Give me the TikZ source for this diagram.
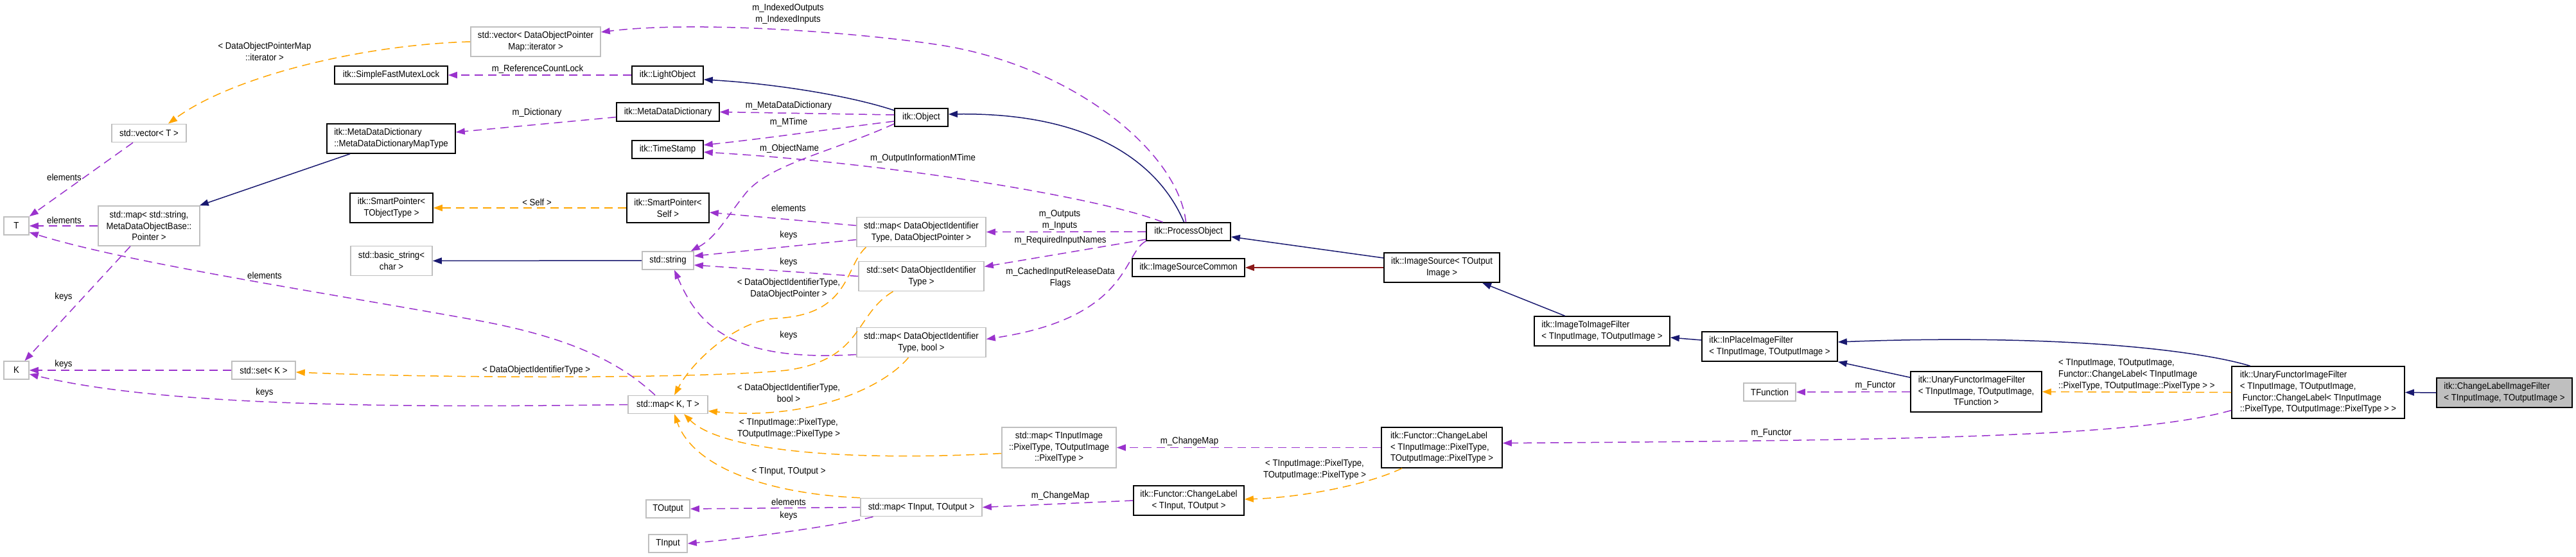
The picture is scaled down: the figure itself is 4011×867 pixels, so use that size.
\documentclass[tikz,border=0pt]{standalone}
\usepackage{fontspec}
\setmainfont{Liberation Sans}[FakeStretch=0.91]
\usetikzlibrary{arrows.meta}
\definecolor{navy}{RGB}{25,25,112}
\definecolor{orchid}{RGB}{154,50,205}
\definecolor{tmplorange}{RGB}{255,165,0}
\definecolor{brick}{RGB}{139,26,26}
\definecolor{greyb}{RGB}{191,191,191}
\tikzset{
  cls/.style={draw=black, line width=1.6pt, rectangle, inner sep=0pt, align=center, fill=white},
  ext/.style={cls, draw=greyb},
  focus/.style={cls, fill=greyb},
  sz/.style 2 args={minimum width=#1pt, minimum height=#2pt},
  lbl/.style={inner sep=0pt, align=center},
  inherit/.style={-{Triangle[length=14pt,width=10pt]}, line width=1.5pt, draw=navy},
  privinh/.style={inherit, draw=brick},
  uses/.style={-{Triangle[length=14pt,width=10pt]}, line width=1.5pt, draw=orchid, dash pattern=on 13pt off 8pt},
  tmpl/.style={uses, draw=tmplorange}
}

\begin{document}
\begin{tikzpicture}[x=1pt, y=-1pt, font=\fontsize{14.5}{17.7}\selectfont]
  \path[use as bounding box, fill=white] (0,0) rectangle (4011,867);

  \node[ext, sz={202}{46}] (vecDOPM) at (834,65) {std::vector< DataObjectPointer\\Map::iterator >};
  \node[cls, sz={176}{28}] (sfml) at (609,117) {itk::SimpleFastMutexLock};
  \node[cls, sz={111}{28}] (light) at (1039.5,117) {itk::LightObject};
  \node[ext, sz={116}{28}] (vecT) at (232,207.5) {std::vector< T >};
  \node[cls, sz={200}{46}, align=left] (mapType) at (609,216) {itk::MetaDataDictionary\\::MetaDataDictionaryMapType};
  \node[cls, sz={160}{29}] (mdd) at (1040,174.5) {itk::MetaDataDictionary};
  \node[cls, sz={83}{28}] (obj) at (1434.5,183) {itk::Object};
  \node[cls, sz={111}{28}] (ts) at (1039.5,233) {itk::TimeStamp};
  \node[ext, sz={39}{28}] (T) at (25.5,352) {T};
  \node[ext, sz={158}{62}] (mapStr) at (232,352) {std::map< std::string,\\MetaDataObjectBase::\\Pointer >};
  \node[cls, sz={129}{46}] (spTOT) at (609.5,324) {itk::SmartPointer<\\TObjectType >};
  \node[cls, sz={128}{46}] (spSelf) at (1040,324) {itk::SmartPointer<\\Self >};
  \node[ext, sz={127}{46}] (bstr) at (609.5,406.5) {std::basic\_string<\\char >};
  \node[ext, sz={80}{28}] (str) at (1040,406) {std::string};
  \node[ext, sz={201}{46}] (mapDOP) at (1434.5,361.5) {std::map< DataObjectIdentifier\\Type, DataObjectPointer >};
  \node[ext, sz={195}{46}] (setDOI) at (1434.5,430.5) {std::set< DataObjectIdentifier\\Type >};
  \node[ext, sz={201}{46}] (mapDOB) at (1434.5,533.5) {std::map< DataObjectIdentifier\\Type, bool >};
  \node[ext, sz={39}{28}] (K) at (25.5,577) {K};
  \node[ext, sz={99}{28}] (setK) at (410.5,577) {std::set< K >};
  \node[ext, sz={124}{28}] (mapKT) at (1040,630.5) {std::map< K, T >};
  \node[ext, sz={178}{63}] (mapPix) at (1649,697.5) {std::map< TInputImage\\::PixelType, TOutputImage\\::PixelType >};
  \node[cls, sz={188}{63}] (clPix) at (2245,697.5) {\begin{tabular}{@{}l@{}}itk::Functor::ChangeLabel\\< TInputImage::PixelType,\\\multicolumn{1}{@{}c@{}}{TOutputImage::PixelType >}\end{tabular}};
  \node[ext, sz={189}{28}] (mapTIO) at (1434.5,790.5) {std::map< TInput, TOutput >};
  \node[ext, sz={68}{28}] (tout) at (1040,793) {TOutput};
  \node[ext, sz={60}{28}] (tin) at (1040,847) {TInput};
  \node[cls, sz={172}{46}] (clIO) at (1851,780) {itk::Functor::ChangeLabel\\< TInput, TOutput >};
  \node[cls, sz={131}{28}] (po) at (1850.5,361) {itk::ProcessObject};
  \node[cls, sz={175}{28}] (isc) at (1850.5,417) {itk::ImageSourceCommon};
  \node[cls, sz={180}{46}] (is) at (2245,417) {itk::ImageSource< TOutput\\Image >};
  \node[cls, sz={211}{46}, align=left] (itif) at (2494.5,516) {itk::ImageToImageFilter\\< TInputImage, TOutputImage >};
  \node[cls, sz={211}{46}, align=left] (ipif) at (2755.5,540) {itk::InPlaceImageFilter\\< TInputImage, TOutputImage >};
  \node[ext, sz={81}{28}] (tfun) at (2755.5,611) {TFunction};
  \node[cls, sz={204}{63}] (ufif) at (3077,610.5) {\begin{tabular}{@{}l@{}}itk::UnaryFunctorImageFilter\\< TInputImage, TOutputImage,\\\multicolumn{1}{@{}c@{}}{TFunction >}\end{tabular}};
  \node[cls, sz={269}{81}, align=left] (ufcl) at (3609.5,611.5) {itk::UnaryFunctorImageFilter\\< TInputImage, TOutputImage,\\\hspace*{4pt}Functor::ChangeLabel< TInputImage\\::PixelType, TOutputImage::PixelType > >};
  \node[focus, sz={211}{46}, align=left] (clif) at (3899.5,612) {itk::ChangeLabelImageFilter\\< TInputImage, TOutputImage >};

  \draw[tmpl] (vecDOPM.west) .. controls (560,70) and (360,120) .. ([xshift=30pt]vecT.north);
  \draw[uses] ([xshift=-4pt]po.north) .. controls (1835,240) and (1680,110) .. (1480,73) .. controls (1380,55) and (1100,30) .. ([yshift=15pt]vecDOPM.east);
  \draw[uses] (light.west) -- (sfml.east);
  \draw[inherit] ([yshift=11pt]obj.west) .. controls (1320,148) and (1200,130) .. ([yshift=-7pt]light.east);
  \draw[uses] ([yshift=4pt]obj.west) -- (mdd.east);
  \draw[uses] ([yshift=-8pt]mdd.west) -- ([yshift=10pt]mapType.east);
  \draw[uses] ([yshift=-6pt]obj.west) .. controls (1300,200) and (1200,215) .. ([yshift=7pt]ts.east);
  \draw[uses] ([xshift=-40pt]po.north) .. controls (1720,310) and (1400,255) .. ([yshift=-4pt]ts.east);
  \draw[uses] ([yshift=-10pt]obj.west) .. controls (1300,235) and (1200,255) .. (1162,300) .. controls (1130,340) and (1115,370) .. ([xshift=-5pt]str.north east);
  \draw[uses] (po.west) -- (mapDOP.east);
  \draw[uses] ([yshift=-12pt]po.west) -- ([yshift=15pt]setDOI.east);
  \draw[uses] (po.south west) .. controls (1748,395) and (1760,495) .. ([yshift=5pt]mapDOB.east);
  \draw[uses] ([yshift=10pt]mapDOP.west) -- ([yshift=-7pt]spSelf.east);
  \draw[uses] ([yshift=-12pt]mapDOP.west) -- ([yshift=7pt]str.east);
  \draw[uses] (setDOI.west) -- ([yshift=-7pt]str.east);
  \draw[uses] ([yshift=-19pt]mapDOB.west) .. controls (1130,565) and (1085,500) .. ([xshift=10pt]str.south);
  \draw[tmpl] (spSelf.west) -- (spTOT.east);
  \draw[inherit] (str.west) -- (bstr.east);
  \draw[inherit] ([xshift=-64pt]mapType.south) -- ([xshift=-1pt]mapStr.north east);
  \draw[uses] (mapStr.west) -- (T.east);
  \draw[uses] ([xshift=-25pt]vecT.south) -- (T.north east);
  \draw[uses] ([xshift=-29pt]mapStr.south) -- ([xshift=13pt]K.north);
  \draw[uses] ([xshift=-20pt]mapKT.north) .. controls (960,560) and (880,525) .. (747,500) .. controls (500,455) and (200,410) .. ([yshift=-10pt]T.east);
  \draw[uses] (mapKT.west) .. controls (600,636) and (250,632) .. ([yshift=-6pt]K.east);
  \draw[uses] (setK.west) -- (K.east);
  \draw[tmpl] ([xshift=-44pt]setDOI.south) .. controls (1330,490) and (1345,560) .. (1225,577) .. controls (1100,590) and (700,590) .. ([yshift=-3pt]setK.east);
  \draw[tmpl] ([xshift=-86pt]mapDOP.south) .. controls (1315,415) and (1325,490) .. (1210,496) .. controls (1150,498) and (1080,560) .. ([xshift=10pt]mapKT.north);
  \draw[tmpl] ([xshift=-20pt]mapDOB.south) .. controls (1370,610) and (1250,655) .. ([yshift=-10pt]mapKT.east);
  \draw[tmpl] ([yshift=-9pt]mapPix.west) .. controls (1300,720) and (1120,700) .. ([xshift=25pt]mapKT.south);
  \draw[tmpl] (mapTIO.north west) .. controls (1200,770) and (1080,730) .. ([xshift=10pt]mapKT.south);
  \draw[uses] (mapTIO.west) -- (tout.east);
  \draw[uses] ([xshift=-75pt]mapTIO.south) .. controls (1300,820) and (1150,840) .. (tin.east);
  \draw[uses] (clPix.west) -- (mapPix.east);
  \draw[uses] (clIO.west) -- (mapTIO.east);
  \draw[tmpl] ([xshift=-62pt]clPix.south) .. controls (2130,755) and (2030,775) .. ([yshift=2pt]clIO.east);
  \draw[inherit] ([xshift=-7pt]po.north) .. controls (1805,255) and (1700,175) .. ([yshift=5pt]obj.east);
  \draw[inherit] ([yshift=15pt]is.west) -- ([yshift=-8pt]po.east);
  \draw[privinh] (is.west) -- (isc.east);
  \draw[inherit] ([xshift=-58pt]itif.north) -- ([xshift=63pt]is.south);
  \draw[inherit] ([yshift=10pt]ipif.west) -- ([yshift=-10pt]itif.east);
  \draw[inherit] ([yshift=-10pt]ufif.north west) -- (ipif.south east);
  \draw[inherit] ([xshift=-106pt]ufcl.north) .. controls (3420,545) and (3200,520) .. ([yshift=7pt]ipif.east);
  \draw[tmpl] (ufcl.west) -- (ufif.east);
  \draw[uses] ([yshift=-28pt]ufcl.west) .. controls (3330,680) and (3000,686) .. ([yshift=7pt]clPix.east);
  \draw[uses] (ufif.west) -- (tfun.east);
  \draw[inherit] (clif.west) -- (ufcl.east);

  \node[lbl] (lIdx) at (1227,22) {m\_IndexedOutputs\\m\_IndexedInputs};
  \node[lbl] (lRcl) at (837,108) {m\_ReferenceCountLock};
  \node[lbl] (lDpm) at (412,80) {< DataObjectPointerMap\\::iterator >};
  \node[lbl] (lMdd) at (1228,165) {m\_MetaDataDictionary};
  \node[lbl] (lDict) at (836,176) {m\_Dictionary};
  \node[lbl] (lMt) at (1228,191) {m\_MTime};
  \node[lbl] (lOn) at (1229,232) {m\_ObjectName};
  \node[lbl] (lOim) at (1437,247) {m\_OutputInformationMTime};
  \node[lbl] (lSelf) at (836,315) {< Self >};
  \node[lbl] (lElA) at (1228,324) {elements};
  \node[lbl] (lIo) at (1650,343) {m\_Outputs\\m\_Inputs};
  \node[lbl] (lKA) at (1228,367) {keys};
  \node[lbl] (lRin) at (1651,375) {m\_RequiredInputNames};
  \node[lbl] (lKB) at (1228,409) {keys};
  \node[lbl] (lCir) at (1651,433) {m\_CachedInputReleaseData\\Flags};
  \node[lbl] (lDoip) at (1228,450) {< DataObjectIdentifierType,\\DataObjectPointer >};
  \node[lbl] (lKC) at (1228,523) {keys};
  \node[lbl] (lDoi) at (835,577) {< DataObjectIdentifierType >};
  \node[lbl] (lDoib) at (1228,612) {< DataObjectIdentifierType,\\bool >};
  \node[lbl] (lPixA) at (1228,668) {< TInputImage::PixelType,\\TOutputImage::PixelType >};
  \node[lbl] (lTio) at (1228,735) {< TInput, TOutput >};
  \node[lbl] (lElB) at (1228,782) {elements};
  \node[lbl] (lKD) at (1228,804) {keys};
  \node[lbl] (lCmA) at (1852,688) {m\_ChangeMap};
  \node[lbl] (lCmB) at (1651,773) {m\_ChangeMap};
  \node[lbl] (lPixB) at (2047,732) {< TInputImage::PixelType,\\TOutputImage::PixelType >};
  \node[lbl] (lFA) at (2920,601) {m\_Functor};
  \node[lbl] (lFB) at (2758,675) {m\_Functor};
  \node[lbl, anchor=west, align=left] (lUfcl) at (3205,584) {< TInputImage, TOutputImage,\\Functor::ChangeLabel< TInputImage\\::PixelType, TOutputImage::PixelType > >};
  \node[lbl] (lElC) at (100,276) {elements};
  \node[lbl] (lElD) at (100,343) {elements};
  \node[lbl] (lElE) at (412,429) {elements};
  \node[lbl] (lKE) at (99,463) {keys};
  \node[lbl] (lKF) at (99,568) {keys};
  \node[lbl] (lKG) at (412,612) {keys};
\end{tikzpicture}
\end{document}
